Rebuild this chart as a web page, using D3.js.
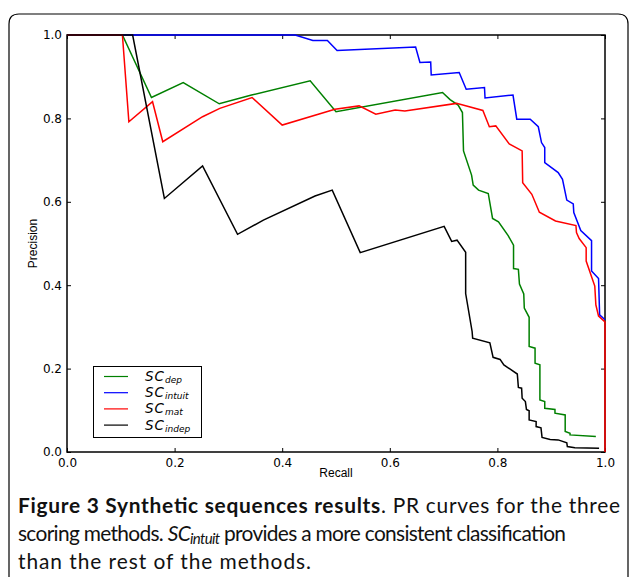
<!DOCTYPE html>
<meta charset="utf-8">
<style>
body { margin: 0; background: #fff; }
svg { display: block; }
.tick text { font-family: "DejaVu Sans", sans-serif; font-size: 12px; fill: #000; }
.tick line { stroke: #000; stroke-width: 1; }
.axis-title { font-family: "Liberation Sans", Arial, sans-serif; font-size: 12px; }
.caption { font-family: Lato, "Open Sans", sans-serif; fill: #111; }
.curve { fill: none; stroke-width: 1.5; stroke-linejoin: miter; }
.leg text { font-family: "DejaVu Sans", sans-serif; font-style: italic; }
</style>
<body>
<svg width="629" height="577"></svg>
<script src="https://d3js.org/d3.v7.min.js"></script>
<script>

// [recall, precision] pairs
var scDep = [[0, 1], [0.103, 1.0], [0.157, 0.85], [0.216, 0.886], [0.283, 0.835], [0.343, 0.856],
  [0.452, 0.89], [0.5, 0.816], [0.698, 0.862], [0.712, 0.845], [0.727, 0.832], [0.735, 0.814],
  [0.737, 0.722], [0.752, 0.664], [0.755, 0.640], [0.765, 0.628], [0.783, 0.620], [0.791, 0.560],
  [0.802, 0.552], [0.820, 0.519], [0.830, 0.496], [0.830, 0.440], [0.839, 0.438], [0.841, 0.403],
  [0.849, 0.379], [0.850, 0.345], [0.859, 0.323], [0.859, 0.253], [0.870, 0.249], [0.870, 0.213],
  [0.879, 0.209], [0.879, 0.125], [0.888, 0.121], [0.888, 0.105], [0.907, 0.102], [0.907, 0.093],
  [0.926, 0.089], [0.926, 0.049], [0.935, 0.045], [0.935, 0.041], [0.983, 0.037]];

var scIntuit = [[0, 1], [0.424, 1.0], [0.457, 0.987], [0.484, 0.987], [0.502, 0.963], [0.648, 0.971],
  [0.656, 0.934], [0.676, 0.935], [0.677, 0.904], [0.729, 0.910], [0.742, 0.870], [0.776, 0.874],
  [0.777, 0.849], [0.829, 0.856], [0.836, 0.798], [0.861, 0.798], [0.876, 0.780], [0.882, 0.742],
  [0.888, 0.730], [0.888, 0.694], [0.913, 0.670], [0.921, 0.654], [0.929, 0.604], [0.941, 0.595],
  [0.942, 0.574], [0.955, 0.531], [0.975, 0.507], [0.975, 0.434], [0.988, 0.416], [0.990, 0.329],
  [1.0, 0.317]];

var scMat = [[0, 1], [0.103, 1.0], [0.115, 0.792], [0.159, 0.840], [0.178, 0.744], [0.252, 0.804],
  [0.284, 0.824], [0.344, 0.850], [0.400, 0.784], [0.498, 0.822], [0.543, 0.830], [0.574, 0.810],
  [0.610, 0.820], [0.628, 0.818], [0.724, 0.836], [0.773, 0.819], [0.785, 0.780], [0.797, 0.782],
  [0.822, 0.739], [0.846, 0.722], [0.847, 0.646], [0.864, 0.618], [0.878, 0.575], [0.908, 0.554],
  [0.946, 0.543], [0.947, 0.526], [0.952, 0.512], [0.965, 0.490], [0.965, 0.458], [0.981, 0.398],
  [0.983, 0.353], [0.988, 0.326], [1.0, 0.312], [1.0, 0.0]];

var scIndep = [[0, 1], [0.122, 1.0], [0.181, 0.608], [0.252, 0.686], [0.317, 0.522], [0.365, 0.556],
  [0.461, 0.614], [0.493, 0.628], [0.545, 0.478], [0.701, 0.541], [0.715, 0.505], [0.725, 0.508],
  [0.741, 0.479], [0.741, 0.380], [0.753, 0.289], [0.754, 0.273], [0.786, 0.262], [0.792, 0.227],
  [0.805, 0.222], [0.812, 0.209], [0.837, 0.187], [0.839, 0.155], [0.845, 0.153], [0.846, 0.129],
  [0.852, 0.121], [0.854, 0.102], [0.859, 0.099], [0.859, 0.077], [0.872, 0.073], [0.872, 0.061],
  [0.881, 0.058], [0.883, 0.035], [0.898, 0.030], [0.913, 0.029], [0.929, 0.022], [0.930, 0.013],
  [0.944, 0.010], [0.989, 0.009]];

var seriesNames = ['dep', 'intuit', 'mat', 'indep'];
var seriesColors = ['#008000', '#0000ff', '#ff0000', '#000000'];
var seriesData = [scDep, scIntuit, scMat, scIndep];
var tickValues = [0, 0.2, 0.4, 0.6, 0.8, 1.0];

var svg = d3.select('svg');

// rounded figure frame
svg.append('path')
  .attr('d', 'M9,577 L9,24 Q9,14 19,14 L618,14 Q628,14 628,24 L628,577')
  .attr('fill', 'none')
  .attr('stroke', '#000')
  .attr('stroke-width', 1.2);

var x = d3.scaleLinear().domain([0, 1]).range([67, 605]);
var y = d3.scaleLinear().domain([0, 1]).range([452, 35]);
var fmt = d3.format('.1f');

function strip(g) { g.select('.domain').remove(); }

svg.append('g').attr('transform', 'translate(0,452)')
  .call(d3.axisBottom(x).tickValues(tickValues).tickFormat(fmt).tickSize(-4).tickPadding(6))
  .call(strip);
svg.append('g').attr('transform', 'translate(67,0)')
  .call(d3.axisLeft(y).tickValues(tickValues).tickFormat(fmt).tickSize(-4).tickPadding(5))
  .call(strip);
svg.append('g').attr('transform', 'translate(0,35)')
  .call(d3.axisTop(x).tickValues(tickValues).tickFormat('').tickSize(-4))
  .call(strip);
svg.append('g').attr('transform', 'translate(605,0)')
  .call(d3.axisRight(y).tickValues(tickValues).tickFormat('').tickSize(-4))
  .call(strip);

svg.append('rect')
  .attr('x', 67).attr('y', 35)
  .attr('width', x(1) - x(0)).attr('height', y(0) - y(1))
  .attr('fill', 'none').attr('stroke', '#000').attr('stroke-width', 1.5);

var line = d3.line()
  .x(function(d) { return x(d[0]); })
  .y(function(d) { return y(d[1]); });

seriesData.forEach(function(data, i) {
  svg.append('path')
    .datum(data)
    .attr('class', 'curve')
    .attr('stroke', seriesColors[i])
    .attr('d', line);
});

// axis titles
svg.append('text').attr('class', 'axis-title')
  .attr('x', (x(0) + x(1)) / 2).attr('y', 477)
  .attr('text-anchor', 'middle').text('Recall');
svg.append('text').attr('class', 'axis-title')
  .attr('transform', 'translate(37,' + (y(0) + y(1)) / 2 + ') rotate(-90)')
  .attr('text-anchor', 'middle').text('Precision');

// legend
var leg = svg.append('g').attr('class', 'leg');
leg.append('rect')
  .attr('x', 93.5).attr('y', 366.5).attr('width', 108).attr('height', 71)
  .attr('fill', '#fff').attr('stroke', '#000').attr('stroke-width', 1);
seriesNames.forEach(function(name, i) {
  var ly = 376.5 + i * 16.2;
  leg.append('line')
    .attr('x1', 104).attr('x2', 128).attr('y1', ly).attr('y2', ly)
    .attr('stroke', seriesColors[i]).attr('stroke-width', 1.2);
  var t = leg.append('text').attr('x', 145).attr('y', ly + 4.5);
  t.append('tspan').style('font-size', '13.5px').style('letter-spacing', '1px').text('SC');
  t.append('tspan').style('font-size', '9px').attr('dy', 2).text(name);
});

// caption
var cap = svg.append('g').attr('class', 'caption');
var l1 = cap.append('text').attr('x', 18).attr('y', 513);
l1.append('tspan').attr('font-weight', 'bold').text('Figure 3 Synthetic sequences results');
l1.append('tspan').text('. PR curves for the three');
var l2 = cap.append('text').attr('x', 18).attr('y', 541);
l2.append('tspan').text('scoring methods. ');
l2.append('tspan').attr('font-style', 'italic').text('SC');
l2.append('tspan').attr('font-style', 'italic').attr('font-size', '0.72em').attr('dy', 3).text('intuit');
l2.append('tspan').attr('dy', -3).text(' provides a more consistent classification');
var l3 = cap.append('text').attr('x', 18).attr('y', 569).text('than the rest of the methods.');

// pick a caption size from the widths the lines take in the figure,
// then nudge spacing so every line ends where it does there
var size = 18;
cap.style('font-size', size + 'px');
var s1 = size * 602 / l1.node().getComputedTextLength();
var s2 = size * 548 / l2.node().getComputedTextLength();
size = (s1 + s2) / 2;
cap.style('font-size', size + 'px');
[[l1, 602], [l2, 548], [l3, 293]].forEach(function(t) {
  t[0].attr('textLength', t[1]).attr('lengthAdjust', 'spacing');
});

</script>
</body>
